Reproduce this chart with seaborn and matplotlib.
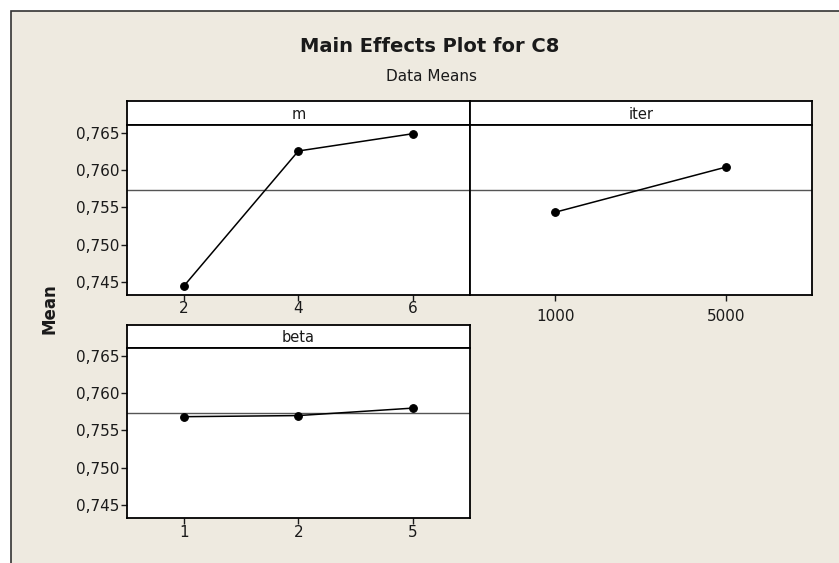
import matplotlib
matplotlib.use("Agg")
import matplotlib.pyplot as plt
from matplotlib.patches import Rectangle
from matplotlib.ticker import FuncFormatter, FixedLocator
import seaborn as sns

# Factor levels and the mean response at each level
m_levels = ["2", "4", "6"]
m_means = [0.74446, 0.76258, 0.76490]

iter_levels = ["1000", "5000"]
iter_means = [0.75437, 0.76043]

beta_levels = ["1", "2", "5"]
beta_means = [0.75685, 0.75700, 0.75800]

grand_mean = 0.75733
y_ticks = [0.745, 0.750, 0.755, 0.760, 0.765]
y_range = (0.74325, 0.76607)

sns.set_theme(style="white")
plt.rcParams["font.family"] = ["DejaVu Sans"]

W, H = 839, 563
fig = plt.figure(figsize=(W / 100, H / 100), dpi=100, facecolor="white")

BG = "#EEEAE0"
INK = "#1a1a1a"

# beige panel with a border on its top and left edges
fig.patches.append(Rectangle((11 / W, -0.05), 1.2, 1 - 11 / H + 0.05,
                             transform=fig.transFigure, facecolor=BG,
                             edgecolor="#333333", linewidth=1.2, zorder=-10))


def fx(px):
    return px / W


def fy(py):
    return 1 - py / H


def box(left, right, top, bottom):
    return [fx(left), fy(bottom), fx(right) - fx(left), fy(top) - fy(bottom)]


def comma(v, _pos):
    return f"{v:.3f}".replace(".", ",")


def strip(left, right, top, bottom, label):
    sax = fig.add_axes(box(left, right, top, bottom))
    sax.set_facecolor("white")
    sax.set_xticks([])
    sax.set_yticks([])
    for sp in sax.spines.values():
        sp.set_color("black")
        sp.set_linewidth(1.3)
    sax.text(0.5, 0.45, label, ha="center", va="center", fontsize=10.5,
             color=INK, transform=sax.transAxes)
    return sax


def panel(left, right, top, bottom, levels, means, show_y, xpad):
    ax = fig.add_axes(box(left, right, top, bottom))
    ax.set_facecolor("white")
    sns.pointplot(x=levels, y=means, ax=ax, color="black", markers="o",
                  errorbar=None, markersize=5.5, linewidth=1.1)
    ax.axhline(grand_mean, color="#555555", linewidth=1.0, zorder=1)
    ax.set_xlim(-0.5, len(levels) - 0.5)
    ax.set_ylim(*y_range)
    ax.set_xlabel("")
    ax.set_ylabel("")
    ax.yaxis.set_major_locator(FixedLocator(y_ticks))
    ax.yaxis.set_major_formatter(FuncFormatter(comma))
    ax.tick_params(axis="x", direction="out", length=4, width=1.0,
                   color=INK, labelsize=11, labelcolor=INK, pad=xpad,
                   bottom=True)
    if show_y:
        ax.tick_params(axis="y", direction="out", length=4.5, width=1.0,
                       color=INK, labelsize=11, labelcolor=INK, pad=1,
                       left=True)
    else:
        ax.tick_params(axis="y", left=False, labelleft=False)
    for sp in ax.spines.values():
        sp.set_color("black")
        sp.set_linewidth(1.3)
    ax.grid(False)
    return ax


# m
strip(126.7, 470, 101, 125, "m")
panel(126.7, 470, 125, 295, m_levels, m_means, True, 0.5)

# iter
strip(470, 811.7, 101, 125, "iter")
panel(470, 811.7, 125, 295, iter_levels, iter_means, False, 6)

# beta
strip(126.7, 470, 325, 348, "beta")
panel(126.7, 470, 348, 518, beta_levels, beta_means, True, 1)

fig.text(fx(430), fy(47), "Main Effects Plot for C8", ha="center",
         va="center", fontsize=14, fontweight="bold", color=INK)
fig.text(fx(431), fy(77), "Data Means", ha="center", va="center",
         fontsize=11, color=INK)
fig.text(fx(50), fy(309), "Mean", ha="center", va="center", rotation=90,
         fontsize=12, fontweight="bold", color=INK)

fig.savefig("out.png", dpi=100, facecolor=fig.get_facecolor())
